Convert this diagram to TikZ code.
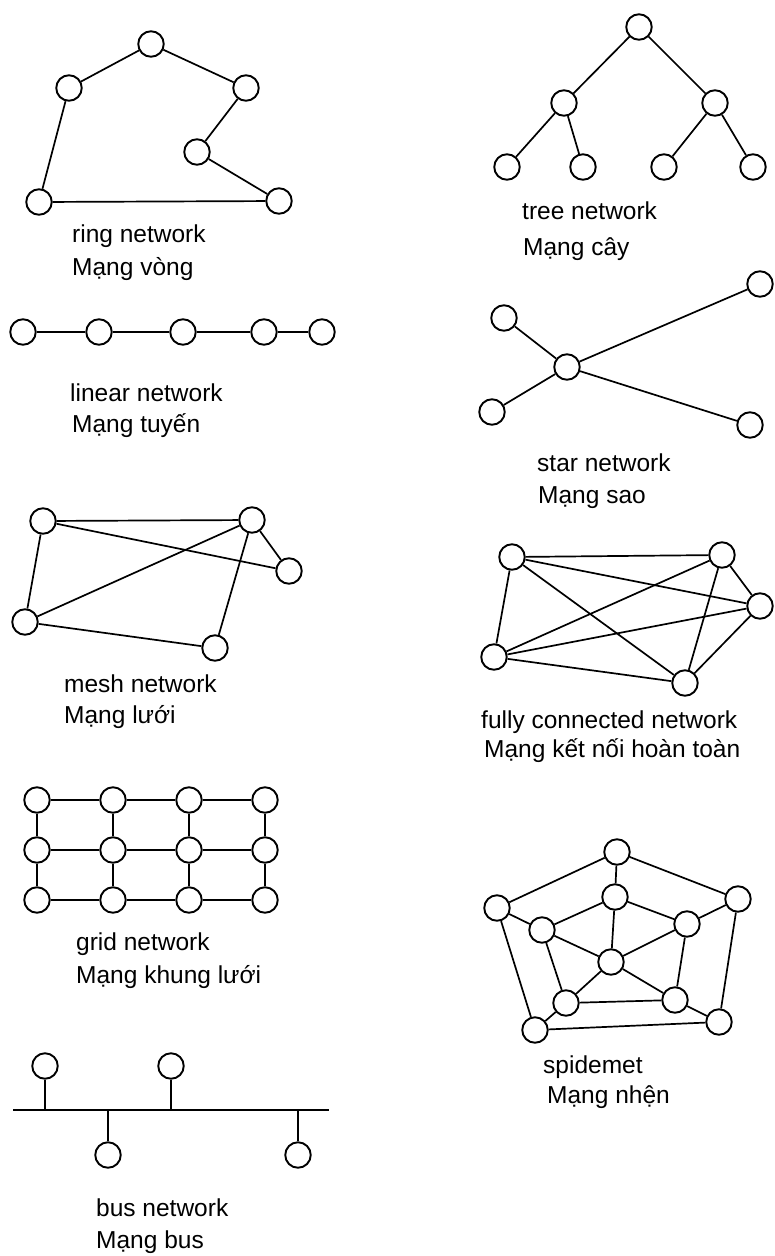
\documentclass[tikz,border=0pt]{standalone}
\usepackage{fontspec}
\setmainfont{Liberation Sans}
\begin{document}
\begin{tikzpicture}[x=1pt,y=-1pt,
  nd/.style={circle,draw,line width=1.9pt,minimum size=25.5pt,inner sep=0pt},
  ln/.style={line width=1.7pt},
  lbl/.style={anchor=base west,inner sep=0pt,font=\fontsize{24.5}{28}\selectfont}]
\useasboundingbox (0,0) rectangle (774,1256);

% ---------------- ring network
\node[nd] (r1) at (151,44) {};
\node[nd] (r2) at (69,88) {};
\node[nd] (r3) at (246,88) {};
\node[nd] (r4) at (197,152) {};
\node[nd] (r5) at (39,202) {};
\node[nd] (r6) at (279,201) {};
\draw[ln] (r2) -- (r1) -- (r3) -- (r4) -- (r6) -- (r5) -- (r2);
\node[lbl] (rt1) at (72,242) {ring network};
\node[lbl] (rt2) at (72,275) {Mạng vòng};

% ---------------- tree network
\node[nd] (t0) at (639,27) {};
\node[nd] (t1) at (564,103) {};
\node[nd] (t2) at (715,103) {};
\node[nd] (t3) at (507,167) {};
\node[nd] (t4) at (583,167) {};
\node[nd] (t5) at (664,167) {};
\node[nd] (t6) at (753,167) {};
\draw[ln] (t0) -- (t1); \draw[ln] (t0) -- (t2);
\draw[ln] (t1) -- (t3); \draw[ln] (t1) -- (t4);
\draw[ln] (t2) -- (t5); \draw[ln] (t2) -- (t6);
\node[lbl] (tt1) at (522,219) {tree network};
\node[lbl] (tt2) at (523,255) {Mạng cây};

% ---------------- linear network
\node[nd] (l1) at (23,332) {};
\node[nd] (l2) at (99,332) {};
\node[nd] (l3) at (183,332) {};
\node[nd] (l4) at (264,332) {};
\node[nd] (l5) at (322,332) {};
\draw[ln] (l1) -- (l2) -- (l3) -- (l4) -- (l5);
\node[lbl] (lt1) at (70,401) {linear network};
\node[lbl] (lt2) at (72,432) {Mạng tuyến};

% ---------------- star network
\node[nd] (s0) at (567,367) {};
\node[nd] (s1) at (504,318) {};
\node[nd] (s2) at (492,412) {};
\node[nd] (s3) at (760,284) {};
\node[nd] (s4) at (750,425) {};
\foreach \n in {s1,s2,s3,s4} \draw[ln] (s0) -- (\n);
\node[lbl] (st1) at (537,471) {star network};
\node[lbl] (st2) at (538,503) {Mạng sao};

% ---------------- mesh network
\node[nd] (m1) at (43,521) {};
\node[nd] (m2) at (252,520) {};
\node[nd] (m3) at (289,571) {};
\node[nd] (m4) at (25,622) {};
\node[nd] (m5) at (215,648) {};
\draw[ln] (m1) -- (m2); \draw[ln] (m1) -- (m3); \draw[ln] (m1) -- (m4);
\draw[ln] (m4) -- (m2); \draw[ln] (m4) -- (m5);
\draw[ln] (m2) -- (m3); \draw[ln] (m2) -- (m5);
\node[lbl] (mt1) at (64,692) {mesh network};
\node[lbl] (mt2) at (64,723) {Mạng lưới};

% ---------------- fully connected network
\node[nd] (f1) at (512,557) {};
\node[nd] (f2) at (722,555) {};
\node[nd] (f3) at (760,606) {};
\node[nd] (f4) at (494,657) {};
\node[nd] (f5) at (685,683) {};
\foreach \a/\b in {f1/f2,f1/f3,f1/f4,f1/f5,f2/f3,f2/f4,f2/f5,f3/f4,f3/f5,f4/f5}
  \draw[ln] (\a) -- (\b);
\node[lbl] (ft1) at (481,728) {fully connected network};
\node[lbl] (ft2) at (484,757) {Mạng kết nối hoàn toàn};

% ---------------- grid network
\foreach \c/\x in {1/37,2/113,3/189,4/265}
  \foreach \r/\y in {1/800,2/850,3/900}
    \node[nd] (g\r\c) at (\x,\y) {};
\foreach \r in {1,2,3} \draw[ln] (g\r1) -- (g\r2) -- (g\r3) -- (g\r4);
\foreach \c in {1,2,3,4} \draw[ln] (g1\c) -- (g2\c) -- (g3\c);
\node[lbl] (gt1) at (76,950) {grid network};
\node[lbl] (gt2) at (76,983) {Mạng khung lưới};

% ---------------- bus network
\coordinate (bL) at (13,1110);
\coordinate (bR) at (329,1110);
\draw[ln] (bL) -- (bR);
\node[nd] (b1) at (45,1066) {};
\node[nd] (b2) at (171,1066) {};
\node[nd] (b3) at (108,1155) {};
\node[nd] (b4) at (298,1155) {};
\coordinate (c1) at (45,1110);
\coordinate (c2) at (171,1110);
\coordinate (c3) at (108,1110);
\coordinate (c4) at (298,1110);
\foreach \i in {1,2,3,4} \draw[ln] (b\i) -- (c\i);
\node[lbl] (bt1) at (96,1216) {bus network};
\node[lbl] (bt2) at (96,1248) {Mạng bus};

% ---------------- spidernet
\node[nd] (o1) at (617,852) {};
\node[nd] (o2) at (497,908) {};
\node[nd] (o3) at (738,899) {};
\node[nd] (o4) at (535,1030) {};
\node[nd] (o5) at (719,1022) {};
\node[nd] (i1) at (615,897) {};
\node[nd] (i2) at (542,930) {};
\node[nd] (i3) at (687,924) {};
\node[nd] (i4) at (566,1003) {};
\node[nd] (i5) at (675,1000) {};
\node[nd] (cc) at (611,962) {};
\draw[ln] (o2) -- (o1) -- (o3) -- (o5) -- (o4) -- (o2);
\draw[ln] (i2) -- (i1) -- (i3) -- (i5) -- (i4) -- (i2);
\foreach \i in {1,...,5} \draw[ln] (o\i) -- (i\i);
\foreach \i in {1,...,5} \draw[ln] (cc) -- (i\i);
\node[lbl] (pt1) at (543,1073) {spidemet};
\node[lbl] (pt2) at (547,1103) {Mạng nhện};
\end{tikzpicture}
\end{document}
